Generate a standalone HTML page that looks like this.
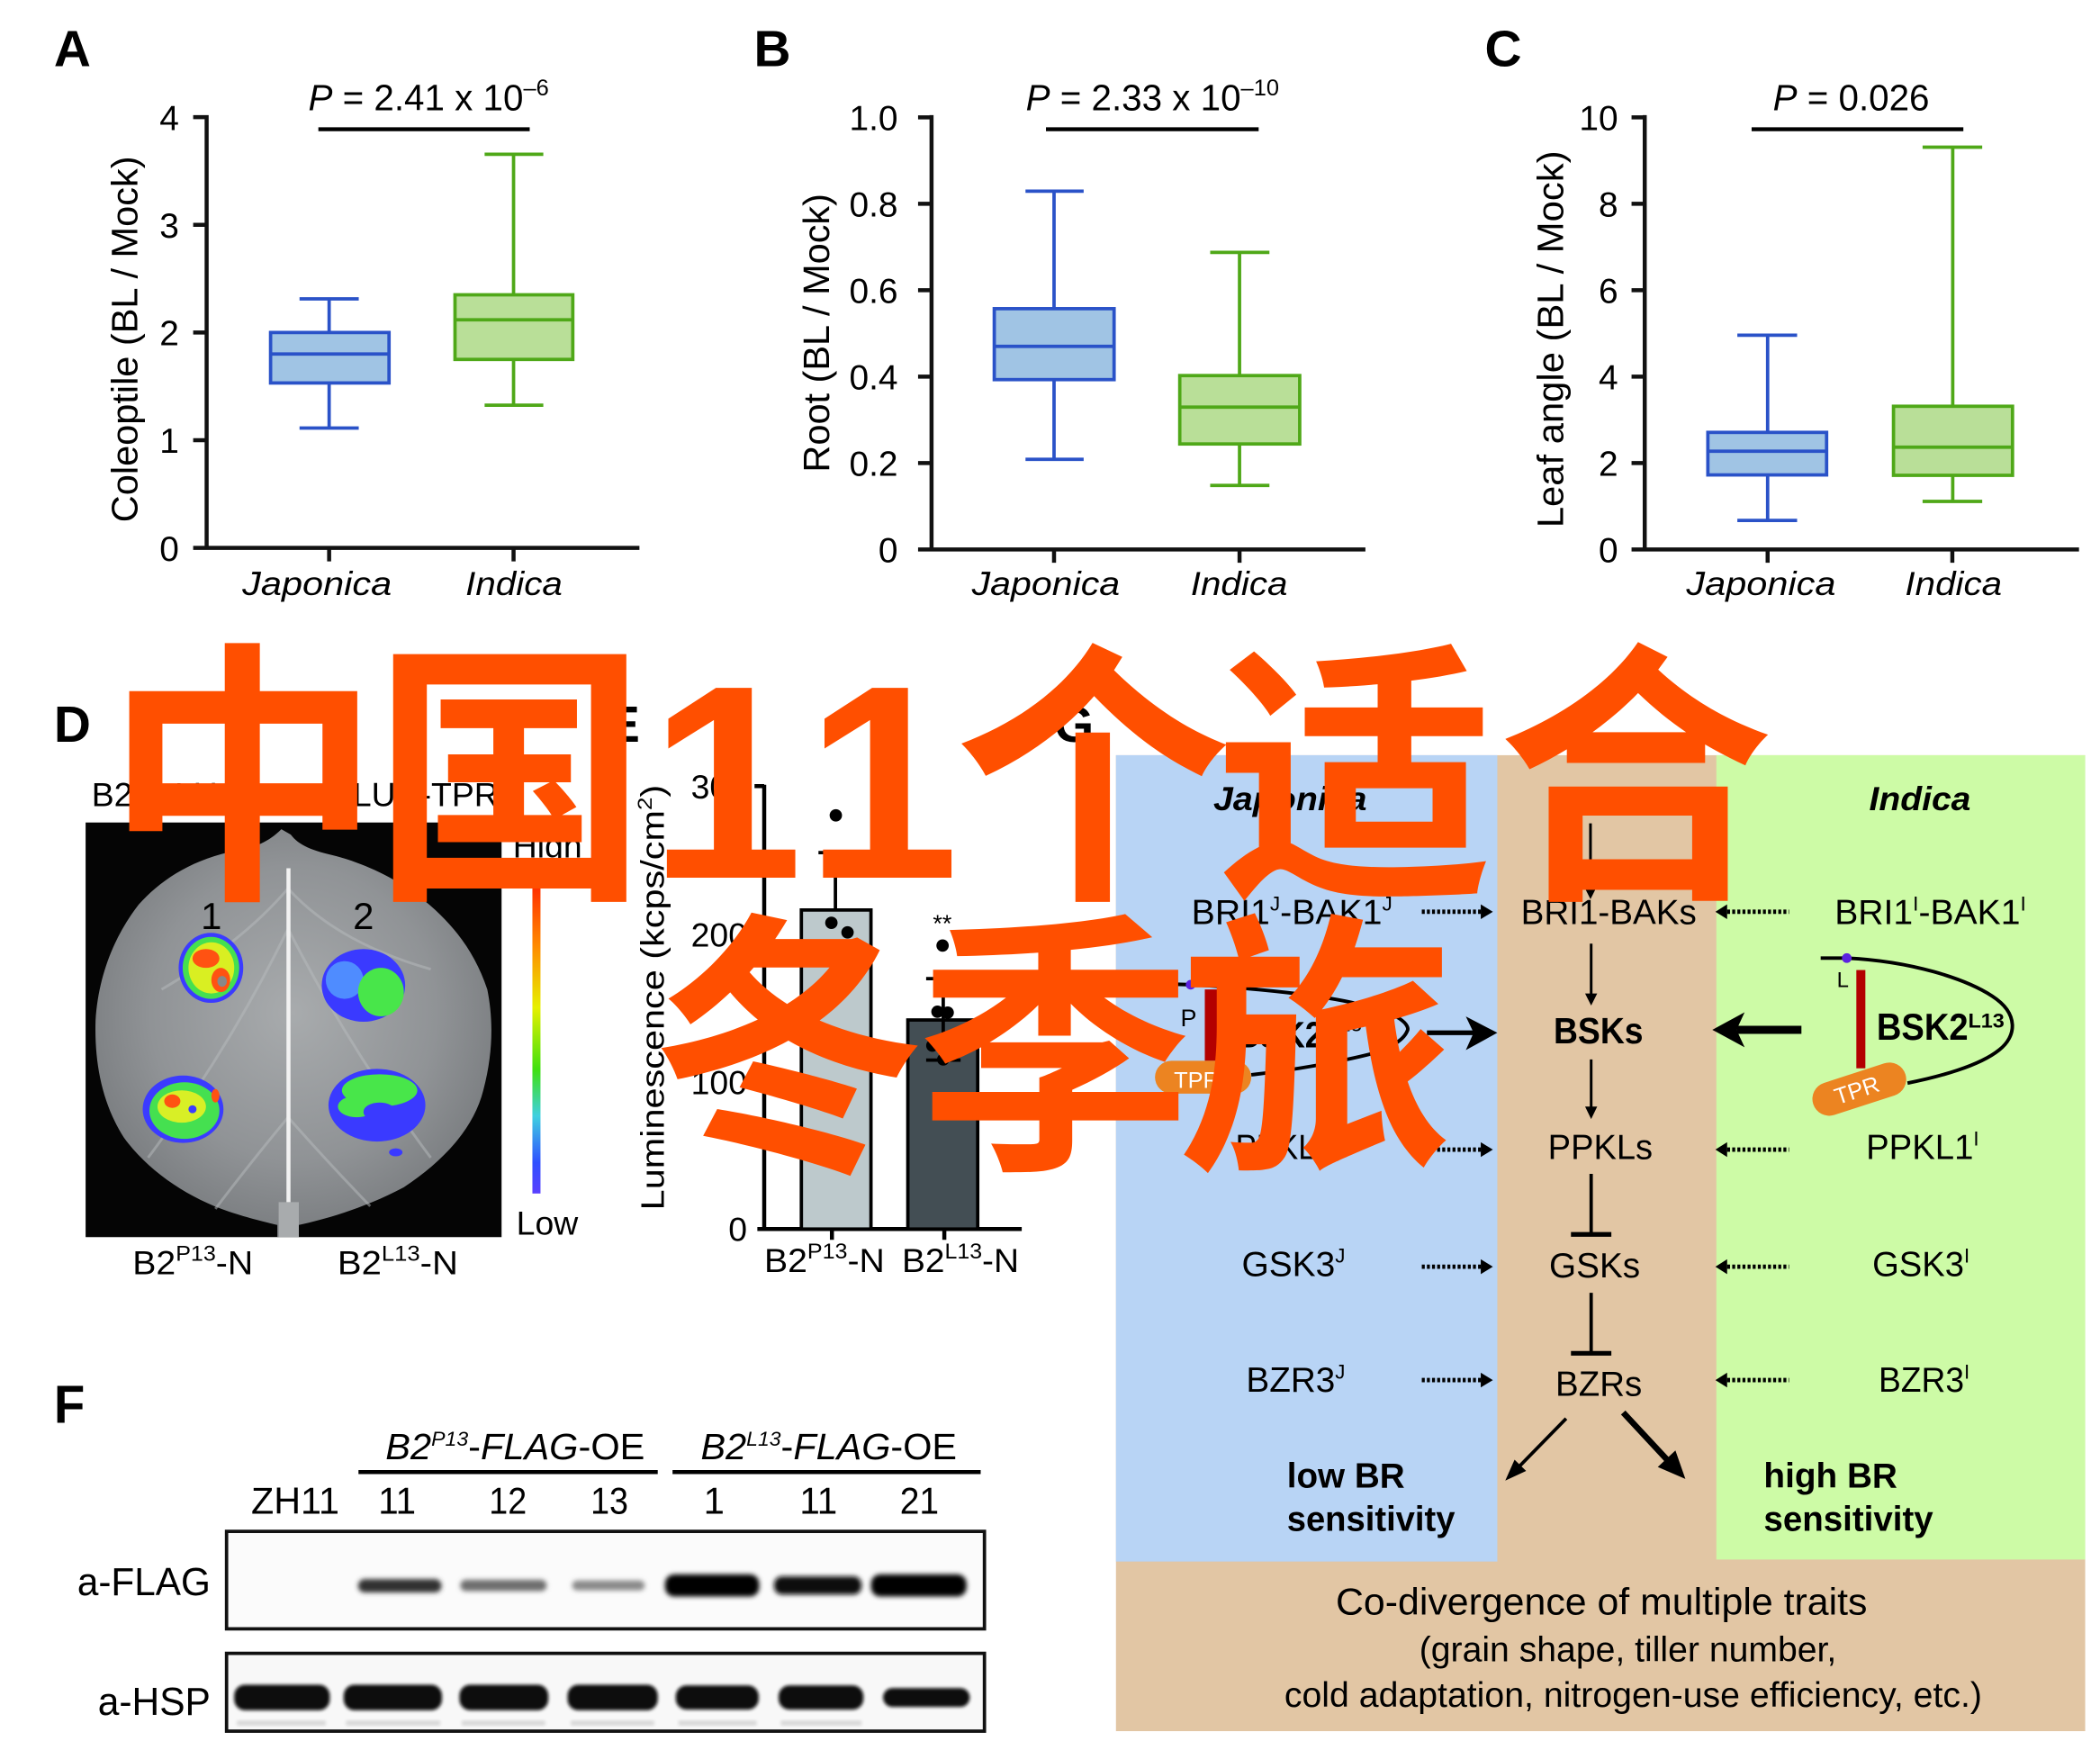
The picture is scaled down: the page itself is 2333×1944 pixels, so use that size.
<!DOCTYPE html>
<html><head><meta charset="utf-8">
<style>
html,body{margin:0;padding:0;background:#fff;}
svg{display:block;}
text{font-family:"Liberation Sans",Arial,sans-serif;fill:#000;}
.cjk{font-family:"Liberation Sans","Noto Sans CJK SC","WenQuanYi Zen Hei",sans-serif;font-weight:bold;fill:#ff4f00;}
</style></head><body>
<svg xmlns="http://www.w3.org/2000/svg" width="2333" height="1944" viewBox="0 0 1560 1300" preserveAspectRatio="none">
<defs>
<radialGradient id="leafg" cx="50%" cy="45%" r="60%">
<stop offset="0" stop-color="#a8abad"/><stop offset="0.6" stop-color="#909396"/><stop offset="1" stop-color="#74777a"/>
</radialGradient>
<linearGradient id="cbar" x1="0" y1="0" x2="0" y2="1">
<stop offset="0" stop-color="#ff2a00"/><stop offset="0.2" stop-color="#ff8a00"/><stop offset="0.4" stop-color="#e6f000"/>
<stop offset="0.6" stop-color="#40e010"/><stop offset="0.75" stop-color="#40d0e0"/><stop offset="0.9" stop-color="#3050ff"/><stop offset="1" stop-color="#5a40ff"/>
</linearGradient>
<filter id="blur" x="-20%" y="-80%" width="140%" height="260%"><feGaussianBlur stdDeviation="1.8"/></filter>
<filter id="blur2" x="-20%" y="-20%" width="140%" height="140%"><feGaussianBlur stdDeviation="1.2"/></filter>
</defs>

<!-- ============ PANEL A ============ -->
<text x="40" y="49" font-size="38" font-weight="bold">A</text>
<text x="229" y="82" font-size="27"><tspan font-style="italic">P</tspan> = 2.41 x 10<tspan font-size="17" dy="-11">–6</tspan></text>
<line x1="236.5" y1="96" x2="393.5" y2="96" stroke="#000" stroke-width="3"/>
<path d="M153.5 85.5V408.5M143.5 407H475M143.5 87H153.5M143.5 167H153.5M143.5 247H153.5M143.5 327H153.5M244.5 407V417M381.5 407V417" stroke="#111" stroke-width="3" fill="none"/>
<g font-size="26" text-anchor="end">
<text x="133" y="96.5">4</text><text x="133" y="176.5">3</text><text x="133" y="256.5">2</text><text x="133" y="336.5">1</text><text x="133" y="416.5">0</text>
</g>
<text transform="translate(102,252) rotate(-90)" text-anchor="middle" font-size="27" textLength="272" lengthAdjust="spacingAndGlyphs">Coleoptile (BL / Mock)</text>
<text x="235.5" y="442" text-anchor="middle" font-size="25" font-style="italic" textLength="111" lengthAdjust="spacingAndGlyphs">Japonica</text>
<text x="381.8" y="442" text-anchor="middle" font-size="25" font-style="italic" textLength="72" lengthAdjust="spacingAndGlyphs">Indica</text>
<g stroke="#2a52c8" stroke-width="2.5" fill="none">
<path d="M244.5 247V222M222.5 222H266.5M244.5 284.5V318M222.5 318H266.5"/>
<rect x="201" y="247" width="88" height="37.5" fill="#a0c4e4"/>
<path d="M201 263H289"/>
</g>
<g stroke="#4fa818" stroke-width="2.5" fill="none">
<path d="M381.5 219V114.6M360 114.6H403.6M381.5 267V301M360 301H403.6"/>
<rect x="338" y="219" width="87.5" height="48" fill="#b9df98"/>
<path d="M338 237.6H425.5"/>
</g>

<!-- ============ PANEL B ============ -->
<text x="560" y="49" font-size="38" font-weight="bold">B</text>
<text x="762" y="82" font-size="27"><tspan font-style="italic">P</tspan> = 2.33 x 10<tspan font-size="17" dy="-11">–10</tspan></text>
<line x1="777" y1="96" x2="935" y2="96" stroke="#000" stroke-width="3"/>
<path d="M692 85.5V409.5M682 408.2H1014.3M682 87.2H692M682 151.4H692M682 215.6H692M682 279.8H692M682 344H692M783 408.2V418M920.8 408.2V418" stroke="#111" stroke-width="3" fill="none"/>
<g font-size="26" text-anchor="end">
<text x="667" y="96.7">1.0</text><text x="667" y="160.9">0.8</text><text x="667" y="225.1">0.6</text><text x="667" y="289.3">0.4</text><text x="667" y="353.5">0.2</text><text x="667" y="417.7">0</text>
</g>
<text transform="translate(616,247.3) rotate(-90)" text-anchor="middle" font-size="27" textLength="207" lengthAdjust="spacingAndGlyphs">Root (BL / Mock)</text>
<text x="776.9" y="442" text-anchor="middle" font-size="25" font-style="italic" textLength="110" lengthAdjust="spacingAndGlyphs">Japonica</text>
<text x="920.5" y="442" text-anchor="middle" font-size="25" font-style="italic" textLength="72" lengthAdjust="spacingAndGlyphs">Indica</text>
<g stroke="#2a52c8" stroke-width="2.5" fill="none">
<path d="M783 229.3V142M761.8 142H805M783 282V341.2M761.8 341.2H805"/>
<rect x="738.6" y="229.3" width="89" height="52.7" fill="#a0c4e4"/>
<path d="M738.6 257.3H827.6"/>
</g>
<g stroke="#4fa818" stroke-width="2.5" fill="none">
<path d="M920.8 279V187.5M899 187.5H943M920.8 329.8V360.6M899 360.6H943"/>
<rect x="876.4" y="279" width="89.1" height="50.8" fill="#b9df98"/>
<path d="M876.4 302.4H965.5"/>
</g>

<!-- ============ PANEL C ============ -->
<text x="1103" y="49" font-size="38" font-weight="bold">C</text>
<text x="1317" y="82" font-size="27"><tspan font-style="italic">P</tspan> = 0.026</text>
<line x1="1301.2" y1="96" x2="1458.5" y2="96" stroke="#000" stroke-width="3"/>
<path d="M1221.8 85.5V409.5M1212 408.2H1544.4M1212 87.2H1221.8M1212 151.4H1221.8M1212 215.6H1221.8M1212 279.8H1221.8M1212 344H1221.8M1313.1 408.2V418M1450.3 408.2V418" stroke="#111" stroke-width="3" fill="none"/>
<g font-size="26" text-anchor="end">
<text x="1202" y="96.7">10</text><text x="1202" y="160.9">8</text><text x="1202" y="225.1">6</text><text x="1202" y="289.3">4</text><text x="1202" y="353.5">2</text><text x="1202" y="417.7">0</text>
</g>
<text transform="translate(1161,252) rotate(-90)" text-anchor="middle" font-size="27" textLength="280" lengthAdjust="spacingAndGlyphs">Leaf angle (BL / Mock)</text>
<text x="1308.2" y="442" text-anchor="middle" font-size="25" font-style="italic" textLength="111" lengthAdjust="spacingAndGlyphs">Japonica</text>
<text x="1451.2" y="442" text-anchor="middle" font-size="25" font-style="italic" textLength="72" lengthAdjust="spacingAndGlyphs">Indica</text>
<g stroke="#2a52c8" stroke-width="2.5" fill="none">
<path d="M1313.1 321.2V249M1290.6 249H1335M1313.1 352.8V386.6M1290.6 386.6H1335"/>
<rect x="1268.7" y="321.2" width="88.2" height="31.6" fill="#a0c4e4"/>
<path d="M1268.7 335.2H1356.9"/>
</g>
<g stroke="#4fa818" stroke-width="2.5" fill="none">
<path d="M1450.6 301.8V109.3M1428.2 109.3H1472.5M1450.6 353.1V372.5M1428.2 372.5H1472.5"/>
<rect x="1406.6" y="301.8" width="88.4" height="51.3" fill="#b9df98"/>
<path d="M1406.6 332.2H1495"/>
</g>

<!-- ============ PANEL D ============ -->
<text x="40" y="551" font-size="38" font-weight="bold">D</text>
<text x="68" y="599" font-size="25">B2<tspan font-size="16" dy="-10">L</tspan><tspan dy="10">-nLUC  +</tspan></text>
<text x="262" y="599" font-size="25">LUC-TPR</text>
<rect x="63.6" y="611" width="309" height="308" fill="#050505"/>
<path d="M209,616 C200,625 190,630 170,633 C140,640 118,655 103,672 C85,695 73,725 71,758 C70,790 76,820 92,845 C110,870 140,890 170,900 C185,905 198,908 206,910 L206,919 L222,919 L222,910 C240,906 270,898 300,882 C330,862 352,838 359,810 C367,780 366,755 362,735 C352,705 334,683 310,665 C290,650 268,641 250,636 C232,632 222,628 216,620 Z" fill="url(#leafg)"/>
<g stroke="#b8bbbd" stroke-width="2" fill="none" opacity="0.5">
<path d="M214,690 Q170,780 110,860M214,690 Q260,780 320,860M214,830 Q185,865 160,898M214,830 Q245,865 275,896M214,660 Q180,700 120,735M214,660 Q250,700 320,720"/>
</g>
<rect x="207" y="893" width="15" height="26" fill="#a8abad"/>
<line x1="214.3" y1="645" x2="214.3" y2="893" stroke="#f2f2f2" stroke-width="3"/>
<text x="157" y="690" font-size="28" text-anchor="middle">1</text>
<text x="270" y="690" font-size="28" text-anchor="middle">2</text>
<g>
<ellipse cx="156.7" cy="719" rx="24" ry="26" fill="#3b3bff"/>
<ellipse cx="156.7" cy="719" rx="21" ry="23" fill="#45e050"/>
<ellipse cx="157" cy="719" rx="17" ry="19" fill="#d9ef22"/>
<ellipse cx="153" cy="712" rx="10" ry="7" fill="#ff5212"/>
<ellipse cx="164" cy="728" rx="7" ry="9" fill="#ff5212"/>
<ellipse cx="165" cy="729" rx="3.5" ry="4" fill="#888"/>
<ellipse cx="270" cy="732" rx="31" ry="27" fill="#3a3aff"/>
<ellipse cx="256" cy="728" rx="14" ry="14" fill="#4f8cff"/>
<ellipse cx="283" cy="737" rx="17" ry="18" fill="#48e64a"/>
<ellipse cx="136" cy="824" rx="30" ry="25" fill="#3b3bff"/>
<ellipse cx="137" cy="825" rx="26" ry="21" fill="#45e050"/>
<ellipse cx="135" cy="822" rx="18" ry="12" fill="#d8ef26"/>
<ellipse cx="128" cy="818" rx="6" ry="5" fill="#ff5212"/>
<ellipse cx="160" cy="814" rx="3" ry="5" fill="#ff5212"/>
<ellipse cx="143" cy="824" rx="3" ry="3" fill="#3b3bff"/>
<ellipse cx="280" cy="821" rx="36" ry="27" fill="#3a3aff"/>
<ellipse cx="282" cy="810" rx="28" ry="12" fill="#48e64a"/>
<ellipse cx="265" cy="822" rx="14" ry="8" fill="#48e64a"/>
<ellipse cx="282" cy="826" rx="12" ry="7" fill="#3a3aff"/>
<ellipse cx="294" cy="856" rx="5" ry="3" fill="#3a3aff"/>
</g>
<rect x="395.5" y="656.4" width="6" height="230.2" fill="url(#cbar)"/>
<text x="381" y="637" font-size="25">High</text>
<text x="383.6" y="917.3" font-size="25">Low</text>
<text x="98.5" y="946.5" font-size="25" textLength="89.5" lengthAdjust="spacingAndGlyphs">B2<tspan font-size="16" dy="-10">P13</tspan><tspan dy="10">-N</tspan></text>
<text x="250.7" y="946.5" font-size="25" textLength="89.6" lengthAdjust="spacingAndGlyphs">B2<tspan font-size="16" dy="-10">L13</tspan><tspan dy="10">-N</tspan></text>

<!-- ============ PANEL E ============ -->
<text x="450" y="551" font-size="38" font-weight="bold">E</text>
<path d="M567.7 583V914.5M560.5 584H567.7M560.5 694H567.7M560.5 804H567.7M562.6 913H759M618 913V921M701.5 913V921" stroke="#000" stroke-width="3" fill="none"/>
<g font-size="25" text-anchor="end">
<text x="555" y="593">300</text><text x="555" y="703">200</text><text x="555" y="813">100</text><text x="555" y="922">0</text>
</g>
<rect x="595.3" y="676" width="51.7" height="237" fill="#bdc9cc" stroke="#000" stroke-width="2.5"/>
<rect x="674.4" y="757.7" width="51.9" height="155.3" fill="#434e54" stroke="#000" stroke-width="2.5"/>
<path d="M620.6 633.4V676M608 633.4H633M700.7 727V787.5M688 727H713.6M688 787.5H713.6" stroke="#000" stroke-width="2.5" fill="none"/>
<g fill="#000">
<circle cx="620.9" cy="605.7" r="4.6"/><circle cx="617.6" cy="685.5" r="4.6"/><circle cx="629.6" cy="692.6" r="4.6"/>
<circle cx="700.2" cy="702.4" r="4.6"/><circle cx="696.4" cy="751.6" r="4.6"/><circle cx="704" cy="752.2" r="4.6"/><circle cx="692.6" cy="776.7" r="4.6"/><circle cx="700.7" cy="787" r="4.6"/>
</g>
<text x="700" y="692" font-size="18" text-anchor="middle">**</text>
<text transform="translate(493,741) rotate(-90)" text-anchor="middle" font-size="24" textLength="316" lengthAdjust="spacingAndGlyphs">Luminescence (kcps/cm<tspan font-size="15" dy="-9">2</tspan><tspan dy="9">)</tspan></text>
<text x="567.7" y="945" font-size="25" textLength="89.5" lengthAdjust="spacingAndGlyphs">B2<tspan font-size="16" dy="-10">P13</tspan><tspan dy="10">-N</tspan></text>
<text x="670" y="945" font-size="25" textLength="87" lengthAdjust="spacingAndGlyphs">B2<tspan font-size="16" dy="-10">L13</tspan><tspan dy="10">-N</tspan></text>

<!-- ============ PANEL G ============ -->
<text x="783" y="551" font-size="38" font-weight="bold">G</text>
<rect x="829" y="561" width="720" height="725" fill="#e2c6a4"/>
<rect x="829" y="561" width="283.3" height="599" fill="#b8d4f5"/>
<rect x="1275" y="561" width="274" height="597.5" fill="#cdfba6"/>

<text x="901.4" y="602" font-size="25" font-weight="bold" font-style="italic" textLength="114" lengthAdjust="spacingAndGlyphs">Japonica</text>
<text x="1388.5" y="602" font-size="25" font-weight="bold" font-style="italic" textLength="75.5" lengthAdjust="spacingAndGlyphs">Indica</text>
<text x="1160" y="602" font-size="25" textLength="44" lengthAdjust="spacingAndGlyphs">BRs</text>

<g font-size="26">
<text x="885.1" y="686.3" textLength="149.2" lengthAdjust="spacingAndGlyphs">BRI1<tspan font-size="15" dy="-10">J</tspan><tspan dy="10">-BAK1</tspan><tspan font-size="15" dy="-10">J</tspan></text>
<text x="1129.8" y="686.3" textLength="130.5" lengthAdjust="spacingAndGlyphs">BRI1-BAKs</text>
<text x="1362.9" y="686.3" textLength="142.1" lengthAdjust="spacingAndGlyphs">BRI1<tspan font-size="15" dy="-10">I</tspan><tspan dy="10">-BAK1</tspan><tspan font-size="15" dy="-10">I</tspan></text>
<text x="917.8" y="861.1" textLength="79.2" lengthAdjust="spacingAndGlyphs">PPKL1<tspan font-size="15" dy="-10">J</tspan></text>
<text x="1149.9" y="861.1" textLength="77.8" lengthAdjust="spacingAndGlyphs">PPKLs</text>
<text x="1386.2" y="861.1" textLength="83.9" lengthAdjust="spacingAndGlyphs">PPKL1<tspan font-size="15" dy="-10">I</tspan></text>
<text x="922.4" y="948" textLength="76.9" lengthAdjust="spacingAndGlyphs">GSK3<tspan font-size="15" dy="-10">J</tspan></text>
<text x="1150.8" y="949" textLength="67.6" lengthAdjust="spacingAndGlyphs">GSKs</text>
<text x="1390.9" y="948" textLength="72.2" lengthAdjust="spacingAndGlyphs">GSK3<tspan font-size="15" dy="-10">I</tspan></text>
<text x="925.7" y="1034" textLength="73.6" lengthAdjust="spacingAndGlyphs">BZR3<tspan font-size="15" dy="-10">J</tspan></text>
<text x="1155.5" y="1037" textLength="64.3" lengthAdjust="spacingAndGlyphs">BZRs</text>
<text x="1395.5" y="1034" textLength="67.6" lengthAdjust="spacingAndGlyphs">BZR3<tspan font-size="15" dy="-10">I</tspan></text>
</g>
<text x="1154.1" y="775.2" font-size="27" font-weight="bold" textLength="66.6" lengthAdjust="spacingAndGlyphs">BSKs</text>

<g font-size="26" font-weight="bold">
<text x="956" y="1105" textLength="87.6" lengthAdjust="spacingAndGlyphs">low BR</text>
<text x="956" y="1137.2" textLength="124.9" lengthAdjust="spacingAndGlyphs">sensitivity</text>
<text x="1310.2" y="1105" textLength="99.3" lengthAdjust="spacingAndGlyphs">high BR</text>
<text x="1310.2" y="1137.2" textLength="125.9" lengthAdjust="spacingAndGlyphs">sensitivity</text>
</g>
<text x="992.3" y="1199.5" font-size="28" textLength="394.8" lengthAdjust="spacingAndGlyphs">Co-divergence of multiple traits</text>
<text x="1054.3" y="1234.3" font-size="26" textLength="310" lengthAdjust="spacingAndGlyphs">(grain shape, tiller number,</text>
<text x="954.1" y="1268" font-size="26" textLength="518.3" lengthAdjust="spacingAndGlyphs">cold adaptation, nitrogen-use efficiency, etc.)</text>

<g stroke="#000" fill="none">
<path d="M1181.5 611.6V660" stroke-width="2"/>
<path d="M1182 701V740M1182 787V824" stroke-width="2"/>
<path d="M1182 872V917M1182 960.4V1005.3" stroke-width="2.5"/>
<path d="M1167 917H1197M1167 1005.3H1197" stroke-width="3.5"/>
<path d="M1163.4 1053.8L1127 1091" stroke-width="2.5"/>
<path d="M1205.8 1049.3L1239 1085" stroke-width="4.5"/>
<path d="M1060 767.2H1096" stroke-width="3.5"/>
<path d="M1338.2 765H1290" stroke-width="6"/>
<g stroke-width="3.2" stroke-dasharray="2.2 1.6">
<path d="M1056.2 677.3H1100M1056.2 854H1100M1056.2 941H1100M1056.2 1025.2H1100"/>
<path d="M1283 677.3H1329M1283 854H1329M1283 941H1329M1283 1025.2H1329"/>
</g>
</g>
<g fill="#000">
<polygon points="1177,659 1181.5,668 1186,659"/>
<polygon points="1177.5,738 1182,747 1186.5,738"/>
<polygon points="1177.5,822 1182,831.3 1186.5,822"/>
<polygon points="1118.2,1099.9 1133.7,1092.7 1125.1,1084.3"/>
<polygon points="1252,1098.6 1244.6,1077.5 1231.5,1089.8"/>
<polygon points="1088.9,755.1 1112.3,767.2 1088.9,780.1 1094.7,767.2"/>
<polygon points="1296,752 1272,765 1296,778 1290,765"/>
<polygon points="1100,671.8 1109,677.3 1100,682.8"/><polygon points="1100,848.5 1109,854 1100,859.5"/>
<polygon points="1100,935.5 1109,941 1100,946.5"/><polygon points="1100,1019.7 1109,1025.2 1100,1030.7"/>
<polygon points="1283,671.8 1274.3,677.3 1283,682.8"/><polygon points="1283,848.5 1274.3,854 1283,859.5"/>
<polygon points="1283,935.5 1274.3,941 1283,946.5"/><polygon points="1283,1019.7 1274.3,1025.2 1283,1030.7"/>
</g>

<path d="M869 731 L885 731.5 C935 734 985 740 1008 745.6 C1040 752 1048 762 1045.3 766 C1042 774 1030 779 1020.9 782.3 C995 789 960 795 929.5 798.4" stroke="#000" stroke-width="2.6" fill="none"/>
<rect x="895" y="735" width="14" height="53" fill="#b30000"/>
<circle cx="884.5" cy="731.5" r="3.6" fill="#5b22e0"/>
<text x="877" y="762.3" font-size="18">P</text>
<rect x="858" y="788" width="71.5" height="24.4" rx="12.2" fill="#ec8421"/>
<text x="872" y="808" font-size="17" style="fill:#fff">TPR</text>
<text x="918" y="778" font-size="27" font-weight="bold" textLength="65" lengthAdjust="spacingAndGlyphs">BSK2</text>
<text x="985" y="766" font-size="15">P13</text>

<path d="M1352.5 711.7 L1372 711.7 C1420 714 1460 727 1480 740 C1500 753 1498 770 1485 780 C1470 792 1440 800 1417 804.6" stroke="#000" stroke-width="2.6" fill="none"/>
<rect x="1379" y="720.6" width="6.7" height="73" fill="#b30000"/>
<circle cx="1371.9" cy="711.7" r="3.6" fill="#5b22e0"/>
<text x="1364.5" y="733.3" font-size="16">L</text>
<text x="1394.1" y="772.3" font-size="28" font-weight="bold" textLength="68" lengthAdjust="spacingAndGlyphs">BSK2</text>
<text x="1462" y="763.4" font-size="15" font-weight="bold" textLength="27" lengthAdjust="spacingAndGlyphs">L13</text>
<g transform="translate(1381.2,809.1) rotate(-18)">
<rect x="-36" y="-12.5" width="72" height="25" rx="12.5" fill="#ec8421"/>
<text x="-2" y="6" font-size="17" text-anchor="middle" style="fill:#fff">TPR</text>
</g>

<!-- ============ PANEL F ============ -->
<text x="40" y="1057" font-size="40" font-weight="bold" textLength="23" lengthAdjust="spacingAndGlyphs">F</text>
<text x="286.4" y="1084" font-size="27" textLength="192.6" lengthAdjust="spacingAndGlyphs"><tspan font-style="italic">B2</tspan><tspan font-style="italic" font-size="15" dy="-10">P13</tspan><tspan dy="10">-</tspan><tspan font-style="italic">FLAG</tspan>-OE</text>
<text x="520.6" y="1084" font-size="27" textLength="190.2" lengthAdjust="spacingAndGlyphs"><tspan font-style="italic">B2</tspan><tspan font-style="italic" font-size="15" dy="-10">L13</tspan><tspan dy="10">-</tspan><tspan font-style="italic">FLAG</tspan>-OE</text>
<path d="M266.3 1093.5H488.6M499.6 1093.5H728.5" stroke="#000" stroke-width="3"/>
<g font-size="28" text-anchor="middle">
<text x="219.3" y="1124.5" textLength="65.5" lengthAdjust="spacingAndGlyphs">ZH11</text>
<text x="295" y="1124.5" textLength="28" lengthAdjust="spacingAndGlyphs">11</text>
<text x="377.3" y="1124.5" textLength="28" lengthAdjust="spacingAndGlyphs">12</text>
<text x="452.7" y="1124.5" textLength="28" lengthAdjust="spacingAndGlyphs">13</text>
<text x="530.4" y="1124.5">1</text>
<text x="608" y="1124.5" textLength="28" lengthAdjust="spacingAndGlyphs">11</text>
<text x="683" y="1124.5" textLength="29" lengthAdjust="spacingAndGlyphs">21</text>
</g>
<text x="156.4" y="1185" font-size="29" text-anchor="end" textLength="99" lengthAdjust="spacingAndGlyphs">a-FLAG</text>
<text x="156.4" y="1274" font-size="29" text-anchor="end" textLength="83.7" lengthAdjust="spacingAndGlyphs">a-HSP</text>
<rect x="168.3" y="1137.6" width="563" height="72.4" fill="#fbfbfb" stroke="#111" stroke-width="2.5"/>
<rect x="168.3" y="1228.2" width="563" height="57.8" fill="#f8f8f8" stroke="#111" stroke-width="2.5"/>
<g filter="url(#blur)">
<rect x="266" y="1173" width="62" height="10" rx="5" fill="#333"/>
<rect x="342" y="1173.5" width="64" height="8.5" rx="4" fill="#6e6e6e"/>
<rect x="425" y="1174" width="54" height="7.5" rx="4" fill="#8a8a8a"/>
<rect x="494" y="1169.5" width="70" height="16.5" rx="7" fill="#050505"/>
<rect x="575" y="1171" width="65" height="13.5" rx="6" fill="#0c0c0c"/>
<rect x="647" y="1169.5" width="71" height="16.5" rx="7" fill="#050505"/>
</g>
<g filter="url(#blur2)">
<rect x="174" y="1251.5" width="71" height="19" rx="8" fill="#0a0a0a"/>
<rect x="255.3" y="1251.5" width="73" height="19" rx="8" fill="#0a0a0a"/>
<rect x="341.3" y="1251.5" width="66" height="19" rx="8" fill="#0a0a0a"/>
<rect x="421.6" y="1251.5" width="67" height="19" rx="8" fill="#0a0a0a"/>
<rect x="502" y="1252" width="61.6" height="18" rx="8" fill="#0a0a0a"/>
<rect x="578.4" y="1252" width="63" height="18" rx="8" fill="#0a0a0a"/>
<rect x="656" y="1254" width="64.4" height="14" rx="7" fill="#0a0a0a"/>
</g>
<g fill="#000" opacity="0.12" filter="url(#blur2)">
<rect x="176" y="1278" width="66" height="4"/><rect x="257" y="1278" width="70" height="4"/><rect x="343" y="1278" width="62" height="4"/>
<rect x="424" y="1278" width="62" height="4"/><rect x="504" y="1278" width="58" height="4"/><rect x="580" y="1278" width="60" height="4"/>
</g>

<!-- ============ OVERLAY ============ -->
<g class="cjk" font-size="205" text-anchor="middle">
<text x="180.5" y="652" class="cjk">中</text>
<text x="379" y="652" class="cjk">国</text>
<text x="539.5" y="652" class="cjk">1</text>
<text x="655.5" y="652" class="cjk">1</text>
<text x="812" y="652" class="cjk">个</text>
<text x="1007" y="652" class="cjk">适</text>
<text x="1215" y="652" class="cjk">合</text>
<text x="585.5" y="853" class="cjk">冬</text>
<text x="784" y="853" class="cjk">季</text>
<text x="978.5" y="853" class="cjk">旅</text>
</g>
</svg>
</body></html>
